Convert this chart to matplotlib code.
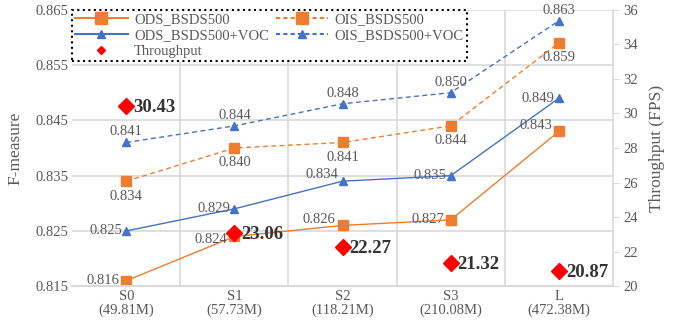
import matplotlib.pyplot as plt
from matplotlib.lines import Line2D

plt.rcParams['font.family'] = ['Liberation Serif', 'DejaVu Serif']

stages = ['S0', 'S1', 'S2', 'S3', 'L']
params = ['49.81M', '57.73M', '118.21M', '210.08M', '472.38M']
ods_bsds = [0.816, 0.824, 0.826, 0.827, 0.843]
ois_bsds = [0.834, 0.840, 0.841, 0.844, 0.859]
ods_voc = [0.825, 0.829, 0.834, 0.835, 0.849]
ois_voc = [0.841, 0.844, 0.848, 0.850, 0.863]
fps = [30.43, 23.06, 22.27, 21.32, 20.87]

orange = '#ED7D31'
blue = '#4472C4'
grey = '#595959'
dash = (3.5, 2.5)
fs = 10.5

fig, ax = plt.subplots(figsize=(6.75, 3.26), dpi=100)
fig.subplots_adjust(left=0.107, right=0.908, top=0.97, bottom=0.122)
x = list(range(len(stages)))

ax.plot(x, ods_bsds, '-s', color=orange, lw=1, ms=7)
ax.plot(x, ois_bsds, '--s', color=orange, lw=1, ms=7, dashes=dash)
ax.plot(x, ods_voc, '-^', color=blue, lw=1, ms=6)
ax.plot(x, ois_voc, '--^', color=blue, lw=1, ms=6, dashes=dash)

lab = dict(fontsize=fs, color=grey)
# value labels: ODS on the left, OIS_BSDS500 below, OIS+VOC above
for i, v in enumerate(ods_bsds):
    dy = 4 if i in (2, 4) else (-2 if i == 1 else 0)
    ax.annotate(f'{v:.3f}', (i, v), xytext=(-5, dy), textcoords='offset points',
                ha='right', va='center', **lab)
for i, v in enumerate(ois_bsds):
    ax.annotate(f'{v:.3f}', (i, v), xytext=(0, -6), textcoords='offset points',
                ha='center', va='top', **lab)
for i, v in enumerate(ods_voc):
    dy = 5 if i == 2 else 0
    ax.annotate(f'{v:.3f}', (i, v), xytext=(-3, dy), textcoords='offset points',
                ha='right', va='center', **lab)
for i, v in enumerate(ois_voc):
    ax.annotate(f'{v:.3f}', (i, v), xytext=(0, 3), textcoords='offset points',
                ha='center', va='bottom', **lab)

ax.set_xlim(-0.5, 4.5)
ax.set_ylim(0.815, 0.865)
ax.set_yticks([0.815, 0.825, 0.835, 0.845, 0.855, 0.865])
ax.set_yticklabels([f'{t:.3f}' for t in ax.get_yticks()])
ax.set_xticks(x)
ax.set_xticklabels([f'{s}\n({p})' for s, p in zip(stages, params)], linespacing=1.05)
ax.set_xticks([0.5, 1.5, 2.5, 3.5], minor=True)
ax.grid(True, which='major', axis='y', color='#D9D9D9', lw=1.2)
ax.grid(True, which='minor', axis='x', color='#D9D9D9', lw=1.2)
ax.tick_params(axis='both', which='both', length=0, labelsize=fs, labelcolor=grey)
ax.tick_params(axis='x', pad=3)
ax.tick_params(axis='y', pad=3)
ax.set_ylabel('F-measure', fontsize=12.5, color=grey, labelpad=8)
for side in ('top', 'right', 'left'):
    ax.spines[side].set_visible(False)
ax.spines['bottom'].set_color('#D9D9D9')
ax.spines['bottom'].set_linewidth(1.5)
ax.set_axisbelow(True)

ax2 = ax.twinx()
ax2.plot(x, fps, 'D', color='red', ms=8)
for i, v in enumerate(fps):
    ax2.annotate(f'{v:.2f}', (i, v), xytext=(5, -1), textcoords='offset points',
                 ha='left', va='center', fontsize=13.5, fontweight='bold', color='#333333')
ax2.set_ylim(20, 36)
ax2.set_yticks(range(20, 37, 2))
ax2.tick_params(axis='y', length=4, color='#D9D9D9', labelsize=fs, labelcolor=grey)
ax2.set_ylabel('Throughput (FPS)', fontsize=12.5, color=grey, labelpad=8)
for side in ('top', 'left', 'bottom'):
    ax2.spines[side].set_visible(False)
ax2.spines['right'].set_color('#D9D9D9')
ax2.spines['right'].set_linewidth(1.2)

handles = [
    Line2D([], [], color=orange, lw=1.5, marker='s', ms=8),
    Line2D([], [], color=blue, lw=1.5, marker='^', ms=6),
    Line2D([], [], color='red', ls='none', marker='D', ms=4),
    Line2D([], [], color=orange, lw=1.5, ls='--', dashes=(2, 1.5), marker='s', ms=8),
    Line2D([], [], color=blue, lw=1.5, ls='--', dashes=(2, 1.5), marker='^', ms=6),
]
names = ['ODS_BSDS500', 'ODS_BSDS500+VOC', 'Throughput', 'OIS_BSDS500', 'OIS_BSDS500+VOC']
leg = ax2.legend(handles, names, ncol=2, loc='upper left', bbox_to_anchor=(0.0, 1.0),
                 fontsize=fs, frameon=True, fancybox=False, borderpad=0.2,
                 labelspacing=0.2, handlelength=3.6, handletextpad=0.45,
                 columnspacing=0.45, borderaxespad=0.0)
for t in leg.get_texts():
    t.set_color(grey)
frame = leg.get_frame()
frame.set_edgecolor('black')
frame.set_linestyle(':')
frame.set_linewidth(1.5)
frame.set_facecolor('white')
frame.set_alpha(1)

fig.savefig('out.png', dpi=100)
